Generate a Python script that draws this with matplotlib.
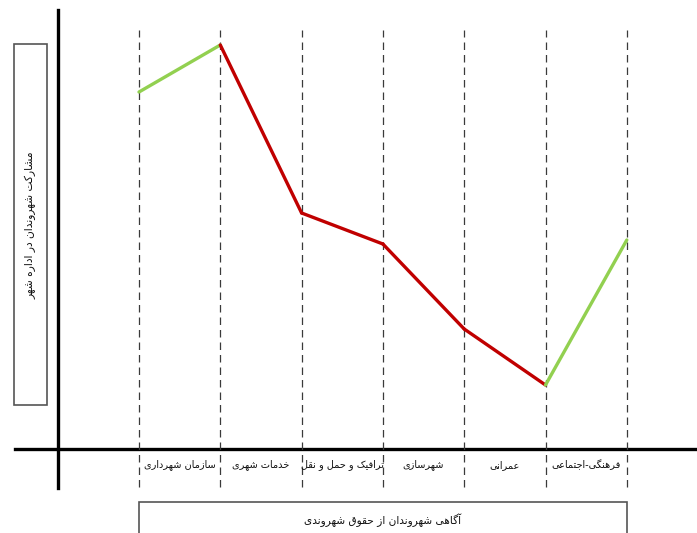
import matplotlib
matplotlib.use("Agg")
import matplotlib.pyplot as plt
from matplotlib.patches import Rectangle

# data
categories = ["سازمان شهرداری", "خدمات شهری", "ترافیک و حمل و نقل",
              "شهرسازی", "عمرانی", "فرهنگی-اجتماعی"]
boundaries = [0, 1, 2, 3, 4, 5, 6]
values = [7.14, 8.08, 4.72, 4.10, 2.40, 1.28, 4.18]
segment_colors = ["#92d050", "#c00000", "#c00000", "#c00000", "#c00000", "#92d050"]
y_title = "مشارکت شهروندان در اداره شهر"
x_title = "آگاهی شهروندان از حقوق شهروندی"

# Arabic/Persian presentation forms: isolated, final, initial, medial
FORMS = {
    'ا': ('\uFE8D', '\uFE8E', None, None),
    'آ': ('\uFE81', '\uFE82', None, None),
    'ت': ('\uFE95', '\uFE96', '\uFE97', '\uFE98'),
    'ج': ('\uFE9D', '\uFE9E', '\uFE9F', '\uFEA0'),
    'ح': ('\uFEA1', '\uFEA2', '\uFEA3', '\uFEA4'),
    'خ': ('\uFEA5', '\uFEA6', '\uFEA7', '\uFEA8'),
    'د': ('\uFEA9', '\uFEAA', None, None),
    'ر': ('\uFEAD', '\uFEAE', None, None),
    'ز': ('\uFEAF', '\uFEB0', None, None),
    'س': ('\uFEB1', '\uFEB2', '\uFEB3', '\uFEB4'),
    'ش': ('\uFEB5', '\uFEB6', '\uFEB7', '\uFEB8'),
    'ع': ('\uFEC9', '\uFECA', '\uFECB', '\uFECC'),
    'ف': ('\uFED1', '\uFED2', '\uFED3', '\uFED4'),
    'ق': ('\uFED5', '\uFED6', '\uFED7', '\uFED8'),
    'ک': ('\uFB8E', '\uFB8F', '\uFB90', '\uFB91'),
    'گ': ('\uFB92', '\uFB93', '\uFB94', '\uFB95'),
    'ل': ('\uFEDD', '\uFEDE', '\uFEDF', '\uFEE0'),
    'م': ('\uFEE1', '\uFEE2', '\uFEE3', '\uFEE4'),
    'ن': ('\uFEE5', '\uFEE6', '\uFEE7', '\uFEE8'),
    'ه': ('\uFEE9', '\uFEEA', '\uFEEB', '\uFEEC'),
    'و': ('\uFEED', '\uFEEE', None, None),
    'ی': ('\uFBFC', '\uFBFD', '\uFBFE', '\uFBFF'),
}


def shape(text):
    # join letters and put them in visual (left to right) order
    out = []
    for i, ch in enumerate(text):
        if ch not in FORMS:
            out.append(ch)
            continue
        prev = text[i - 1] if i > 0 else ''
        nxt = text[i + 1] if i + 1 < len(text) else ''
        join_prev = prev in FORMS and FORMS[prev][2] is not None
        join_next = FORMS[ch][2] is not None and nxt in FORMS
        iso, fin, ini, med = FORMS[ch]
        if join_prev and join_next:
            out.append(med)
        elif join_prev:
            out.append(fin)
        elif join_next:
            out.append(ini)
        else:
            out.append(iso)
    return ''.join(reversed(out))


plt.rcParams['font.family'] = ['DejaVu Sans']

fig = plt.figure(figsize=(6.97, 5.33), dpi=100)
ax = fig.add_axes([0, 0, 1, 1])
ax.set_xlim(-139 / 81.3, 558 / 81.3)
ax.set_ylim(-84 / 50, 449 / 50)
ax.axis("off")

# axes lines
ax.axhline(0, xmin=15 / 697, xmax=1, color="black", lw=2.4)
ax.axvline(-1, ymin=45 / 533, ymax=523 / 533, color="black", lw=2.4)

# dashed separators
for b in boundaries:
    ax.axvline(b, ymin=46 / 533, ymax=503 / 533, color="#3a3a3a",
               lw=0.9, ls=(0, (6, 4)))

# line segments
for i in range(len(values) - 1):
    ax.plot(boundaries[i:i + 2], values[i:i + 2], color=segment_colors[i],
            lw=2.4, solid_capstyle="round")

# category labels
for i, c in enumerate(categories):
    ax.text(i + 0.5, -0.32, shape(c), ha="center", va="center",
            fontsize=7, color="#111111")

# y title box
fig.patches.append(Rectangle((14 / 697, 128 / 533), 33 / 697, 361 / 533,
                             transform=fig.transFigure, fill=False,
                             edgecolor="#555555", lw=1.2))
fig.text(31 / 697, 1 - 225 / 533, shape(y_title), rotation=90,
         ha="center", va="center", fontsize=7.7, color="#111111")

# x title box
fig.patches.append(Rectangle((139 / 697, -5 / 533), 488 / 697, 36 / 533,
                             transform=fig.transFigure, fill=False,
                             edgecolor="#555555", lw=1.2))
fig.text(383 / 697, 13 / 533, shape(x_title), ha="center", va="center",
         fontsize=7.6, color="#111111")

fig.savefig("out.png", dpi=100)
